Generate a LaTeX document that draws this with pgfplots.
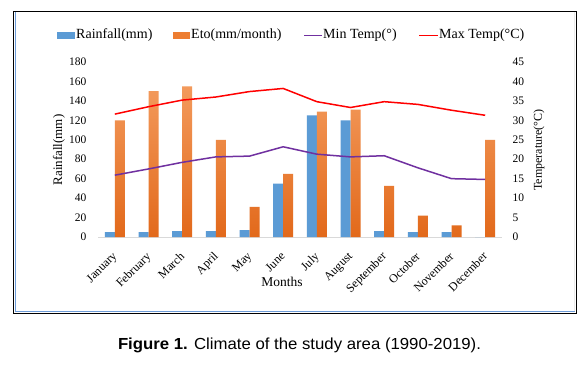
\documentclass[border=0pt]{standalone}
\usepackage{fontspec}
\setmainfont{Liberation Serif}
\newfontfamily\capfont{Liberation Sans}
\usepackage{graphicx}
\usepackage{pgfplots}
\pgfplotsset{compat=1.18}
\definecolor{rainc}{HTML}{5B9BD5}
\definecolor{etotop}{HTML}{F39A5C}
\definecolor{etobot}{HTML}{E2691B}
\definecolor{etoc}{HTML}{ED7D31}
\definecolor{mintc}{HTML}{7030A0}
\definecolor{maxtc}{HTML}{FF0000}
\definecolor{frameblue}{HTML}{6C9BD8}
\begin{document}
\begin{tikzpicture}
\path[use as bounding box, fill=white] (0,0) rectangle (588pt,-370pt);
% legend swatches
\node[fill=rainc, inner sep=0pt, minimum width=18pt, minimum height=7pt, anchor=west] at (57pt,-35.5pt) {};
\node[fill=etoc, inner sep=0pt, minimum width=17pt, minimum height=7pt, anchor=west] at (173pt,-35.5pt) {};
\node[fill={rgb,255:red,112;green,48;blue,160}, inner sep=0pt, minimum width=18pt, minimum height=1.8pt, anchor=west] at (304pt,-35.5pt) {};
\node[fill={rgb,255:red,255;green,0;blue,0}, inner sep=0pt, minimum width=19pt, minimum height=1.8pt, anchor=west] at (419pt,-35.5pt) {};
% frame
\fill[frameblue] (14.5pt,-12pt) rectangle (15.7pt,-311pt);
\fill[frameblue] (14.5pt,-310.8pt) rectangle (575pt,-312pt);
\fill[black!8] (573.5pt,-12pt) rectangle (574.7pt,-311pt);
\draw[black, line width=1pt] (13.5pt,-11.5pt) rectangle (576pt,-313pt);

\begin{axis}[
  at={(98pt,-237pt)}, anchor=south west,
  scale only axis, width=404pt, height=175pt,
  xmin=-0.5, xmax=11.5, ymin=0, ymax=180,
  axis x line*=bottom, axis y line*=left,
  x axis line style={draw=black!15, line width=0.8pt, -},
  y axis line style={draw=none},
  major tick length=0pt,
  xtick={0,...,11},
  xticklabels={January,February,March,April,May,June,July,August,September,October,November,December},
  x tick label style={xshift=-3pt, yshift=-14pt, rotate=45, anchor=north east, font=\rmfamily\fontsize{12}{12}\selectfont, inner sep=0pt},
  ytick={0,20,...,180},
  y tick label style={font=\rmfamily\fontsize{11.5}{12}\selectfont, xshift=-8pt},
  /pgf/number format/assume math mode=true,
  ybar, bar width=10pt,
  clip=false,
]
\addplot[bar shift=-5pt, fill=rainc, draw=none] coordinates {
 (0,5) (1,5) (2,6) (3,6) (4,7) (5,55) (6,125) (7,120) (8,6) (9,5) (10,5) (11,0)};
\addplot[bar shift=5pt, draw=none, top color=etotop, bottom color=etobot] coordinates {
 (0,120) (1,150) (2,155) (3,100) (4,31) (5,65) (6,129) (7,131) (8,52.5) (9,22) (10,12) (11,100)};
\end{axis}

\begin{axis}[
  at={(98pt,-237pt)}, anchor=south west,
  scale only axis, width=404pt, height=175pt,
  xmin=-0.5, xmax=11.5, ymin=0, ymax=45,
  axis x line=none, axis y line*=right,
  y axis line style={draw=none},
  major tick length=0pt,
  ytick={0,5,...,45},
  y tick label style={font=\rmfamily\fontsize{11.5}{12}\selectfont, xshift=7pt},
  /pgf/number format/assume math mode=true,
  clip=false,
]
\addplot[draw=mintc, line width=1.5pt] coordinates {
 (0,15.9) (1,17.5) (2,19.2) (3,20.6) (4,20.8) (5,23.2) (6,21.3) (7,20.6) (8,20.9) (9,17.8) (10,15.0) (11,14.8)};
\addplot[draw=maxtc, line width=1.5pt] coordinates {
 (0,31.6) (1,33.5) (2,35.2) (3,36.0) (4,37.4) (5,38.2) (6,34.8) (7,33.3) (8,34.8) (9,34.1) (10,32.6) (11,31.3)};
\end{axis}

% axis titles
\node[rotate=90, font=\rmfamily\fontsize{13}{14}\selectfont] at (59pt,-150pt) {Rainfall(mm)};
\node[rotate=90, font=\rmfamily\fontsize{12}{13}\selectfont] at (539pt,-150pt) {Temperature(°C)};
\node[font=\rmfamily\fontsize{13.5}{14}\selectfont] at (282pt,-282pt) {Months};

% legend texts
\node[anchor=west, inner sep=0pt, font=\rmfamily\fontsize{14}{15}\selectfont] at (76pt,-35.5pt) {Rainfall(mm)};
\node[anchor=west, inner sep=0pt, font=\rmfamily\fontsize{14}{15}\selectfont] at (191pt,-35.5pt) {Eto(mm/month)};
\node[anchor=west, inner sep=0pt, font=\rmfamily\fontsize{14}{15}\selectfont] at (323pt,-35.5pt) {Min Temp(°)};
\node[anchor=west, inner sep=0pt, font=\rmfamily\fontsize{14}{15}\selectfont] at (439pt,-35.5pt) {Max Temp(°C)};

% caption
\node[font=\capfont\fontsize{16}{18}\selectfont, inner sep=0pt] at (299.5pt,-345pt) {\resizebox{363pt}{\height}{\textbf{Figure 1.} Climate of the study area (1990-2019).}};
\end{tikzpicture}
\end{document}
